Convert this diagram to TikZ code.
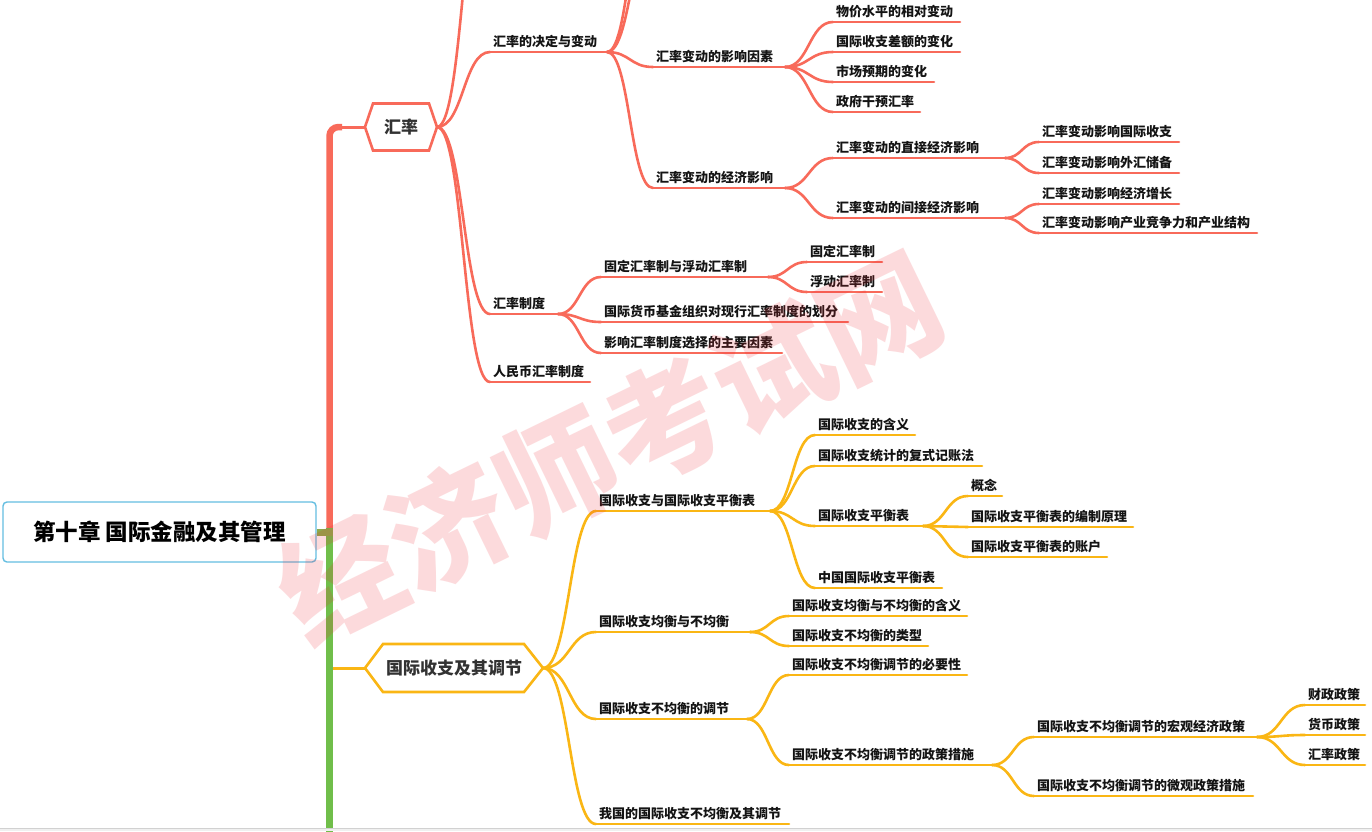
\documentclass[tikz,border=0pt]{standalone}
\usepackage{fontspec}
\newfontfamily\cjk{Noto Sans CJK SC}
\usetikzlibrary{calc}
\definecolor{mmred}{RGB}{248,106,90}
\definecolor{mmyellow}{RGB}{250,182,20}
\definecolor{mmgreen}{RGB}{112,190,74}
\definecolor{mmolive}{RGB}{140,170,75}
\definecolor{rootblue}{RGB}{100,190,225}
\definecolor{txt}{RGB}{20,20,20}
\definecolor{hextxt}{RGB}{50,50,50}
\definecolor{wmred}{RGB}{240,40,50}
\tikzset{
  mmline/.style={line width=2.6pt, line cap=round},
  topictext/.style={inner sep=0pt, text=txt, font=\cjk\bfseries\fontsize{13}{15}\selectfont},
  hexline/.style={line width=2.6pt, fill=white, line join=miter},
  hextext/.style={inner sep=0pt, text=hextxt, font=\cjk\bfseries\fontsize{17}{19}\selectfont},
}
\newcommand\mmtopic[6]{%
  \coordinate (#1L) at (#2,#4);
  \coordinate (#1R) at (#3,#4);
  \draw[#5, mmline] (#1L) -- (#1R);
  \node[topictext, anchor=base west] (#1) at (#2+3,#4-5.5) {#6};
}
\newcommand\mmconn[3]{%
  \draw[#1, mmline] let \p1=(#2), \p2=(#3) in (\p1) .. controls ({0.5*\x1+0.5*\x2},\y1) and ({0.5*\x1+0.5*\x2},\y2) .. (\p2);
}
\begin{document}
\begin{tikzpicture}[x=1pt,y=-1pt]
\useasboundingbox (0,0) rectangle (1372,831);
\fill[white] (0,0) rectangle (1372,831);
\clip (0,0) rectangle (1372,831);

% trunks
\draw[mmred, line width=6.5pt, rounded corners=9pt] (329.5,528) |- (342,127);
\draw[mmred, line width=3pt] (338,127) -- (366,127);
\draw[mmgreen, line width=7pt] (329.5,528) -- (329.5,835);
\draw[mmyellow, line width=3pt] (333,668) -- (366,668);

% hexagons
\coordinate (h1L) at (365,127);
\coordinate (h1R) at (437,127);
\draw[mmred, hexline] (h1L) -- (373,103.5) -- (429,103.5) -- (h1R) -- (429,150.5) -- (373,150.5) -- cycle;
\node[hextext] (h1) at (401,127) {汇率};
\coordinate (h2L) at (365,668);
\coordinate (h2R) at (543,668);
\draw[mmyellow, hexline] (h2L) -- (383,644) -- (524,644) -- (h2R) -- (524,692) -- (383,692) -- cycle;
\node[hextext] (h2) at (454,668) {国际收支及其调节};

% root
\node[draw=rootblue, line width=1.4pt, rounded corners=4pt, fill=white, minimum width=313pt, minimum height=60pt, inner sep=0pt, text=black, font=\cjk\bfseries\fontsize{22.5}{25}\selectfont] (root) at (159.5,532) {第十章 国际金融及其管理};
\draw[mmolive, line width=7pt] (root.east) -- (333,532);

% red subtree
\mmtopic{r1}{490}{607}{52}{mmred}{汇率的决定与变动}
\mmtopic{r11}{653}{785}{67}{mmred}{汇率变动的影响因素}
\mmtopic{r111}{833}{960}{22}{mmred}{物价水平的相对变动}
\mmtopic{r112}{833}{960}{52}{mmred}{国际收支差额的变化}
\mmtopic{r113}{833}{934}{82}{mmred}{市场预期的变化}
\mmtopic{r114}{833}{920}{112}{mmred}{政府干预汇率}
\mmtopic{r12}{653}{785}{188}{mmred}{汇率变动的经济影响}
\mmtopic{r121}{833}{1005}{158}{mmred}{汇率变动的直接经济影响}
\mmtopic{r1211}{1039}{1179}{142}{mmred}{汇率变动影响国际收支}
\mmtopic{r1212}{1039}{1179}{173}{mmred}{汇率变动影响外汇储备}
\mmtopic{r122}{833}{1005}{218}{mmred}{汇率变动的间接经济影响}
\mmtopic{r1221}{1039}{1179}{204}{mmred}{汇率变动影响经济增长}
\mmtopic{r1222}{1039}{1257}{233}{mmred}{汇率变动影响产业竞争力和产业结构}
\mmtopic{r2}{490}{558}{314}{mmred}{汇率制度}
\mmtopic{r21}{601}{768}{277}{mmred}{固定汇率制与浮动汇率制}
\mmtopic{r211}{807}{882}{262}{mmred}{固定汇率制}
\mmtopic{r212}{807}{882}{292}{mmred}{浮动汇率制}
\mmtopic{r22}{601}{848}{322}{mmred}{国际货币基金组织对现行汇率制度的划分}
\mmtopic{r23}{601}{782}{353}{mmred}{影响汇率制度选择的主要因素}
\mmtopic{r3}{490}{590}{382}{mmred}{人民币汇率制度}
\coordinate (r0L) at (490,-150);
\coordinate (r13L) at (655,-130);
\coordinate (r14L) at (655,-70);

\mmconn{mmred}{h1R}{r0L}
\mmconn{mmred}{h1R}{r1L}
\mmconn{mmred}{h1R}{r2L}
\mmconn{mmred}{h1R}{r3L}
\mmconn{mmred}{r1R}{r13L}
\mmconn{mmred}{r1R}{r14L}
\mmconn{mmred}{r1R}{r11L}
\mmconn{mmred}{r1R}{r12L}
\mmconn{mmred}{r11R}{r111L}
\mmconn{mmred}{r11R}{r112L}
\mmconn{mmred}{r11R}{r113L}
\mmconn{mmred}{r11R}{r114L}
\mmconn{mmred}{r12R}{r121L}
\mmconn{mmred}{r12R}{r122L}
\mmconn{mmred}{r121R}{r1211L}
\mmconn{mmred}{r121R}{r1212L}
\mmconn{mmred}{r122R}{r1221L}
\mmconn{mmred}{r122R}{r1222L}
\mmconn{mmred}{r2R}{r21L}
\mmconn{mmred}{r2R}{r22L}
\mmconn{mmred}{r2R}{r23L}
\mmconn{mmred}{r21R}{r211L}
\mmconn{mmred}{r21R}{r212L}

% yellow subtree
\mmtopic{y1}{596}{770}{511}{mmyellow}{国际收支与国际收支平衡表}
\mmtopic{y11}{815}{915}{435}{mmyellow}{国际收支的含义}
\mmtopic{y12}{815}{982}{466}{mmyellow}{国际收支统计的复式记账法}
\mmtopic{y13}{815}{923}{526}{mmyellow}{国际收支平衡表}
\mmtopic{y131}{968}{1002}{496}{mmyellow}{概念}
\mmtopic{y132}{968}{1133}{527}{mmyellow}{国际收支平衡表的编制原理}
\mmtopic{y133}{968}{1107}{557}{mmyellow}{国际收支平衡表的账户}
\mmtopic{y14}{815}{942}{588}{mmyellow}{中国国际收支平衡表}
\mmtopic{y2}{596}{750}{632}{mmyellow}{国际收支均衡与不均衡}
\mmtopic{y21}{789}{967}{616}{mmyellow}{国际收支均衡与不均衡的含义}
\mmtopic{y22}{789}{928}{646}{mmyellow}{国际收支不均衡的类型}
\mmtopic{y3}{596}{747}{719}{mmyellow}{国际收支不均衡的调节}
\mmtopic{y31}{789}{967}{675}{mmyellow}{国际收支不均衡调节的必要性}
\mmtopic{y32}{789}{992}{765}{mmyellow}{国际收支不均衡调节的政策措施}
\mmtopic{y321}{1034}{1257}{737}{mmyellow}{国际收支不均衡调节的宏观经济政策}
\mmtopic{y3211}{1305}{1365}{705}{mmyellow}{财政政策}
\mmtopic{y3212}{1305}{1365}{735}{mmyellow}{货币政策}
\mmtopic{y3213}{1305}{1365}{765}{mmyellow}{汇率政策}
\mmtopic{y322}{1034}{1253}{796}{mmyellow}{国际收支不均衡调节的微观政策措施}
\mmtopic{y4}{596}{789}{824}{mmyellow}{我国的国际收支不均衡及其调节}

\mmconn{mmyellow}{h2R}{y1L}
\mmconn{mmyellow}{h2R}{y2L}
\mmconn{mmyellow}{h2R}{y3L}
\mmconn{mmyellow}{h2R}{y4L}
\mmconn{mmyellow}{y1R}{y11L}
\mmconn{mmyellow}{y1R}{y12L}
\mmconn{mmyellow}{y1R}{y13L}
\mmconn{mmyellow}{y1R}{y14L}
\mmconn{mmyellow}{y13R}{y131L}
\mmconn{mmyellow}{y13R}{y132L}
\mmconn{mmyellow}{y13R}{y133L}
\mmconn{mmyellow}{y2R}{y21L}
\mmconn{mmyellow}{y2R}{y22L}
\mmconn{mmyellow}{y3R}{y31L}
\mmconn{mmyellow}{y3R}{y32L}
\mmconn{mmyellow}{y32R}{y321L}
\mmconn{mmyellow}{y32R}{y322L}
\mmconn{mmyellow}{y321R}{y3211L}
\mmconn{mmyellow}{y321R}{y3212L}
\mmconn{mmyellow}{y321R}{y3213L}

% bottom frame strip
\fill[black!6] (0,828) rectangle (1372,831);
\draw[black!18, line width=0.8pt] (0,828) -- (1372,828);

% watermark
\node[rotate=26, inner sep=0pt, text=wmred, text opacity=0.17, font=\cjk\bfseries\fontsize{120}{120}\selectfont] (wm) at (610,447) {经济师考试网};
\end{tikzpicture}
\end{document}
